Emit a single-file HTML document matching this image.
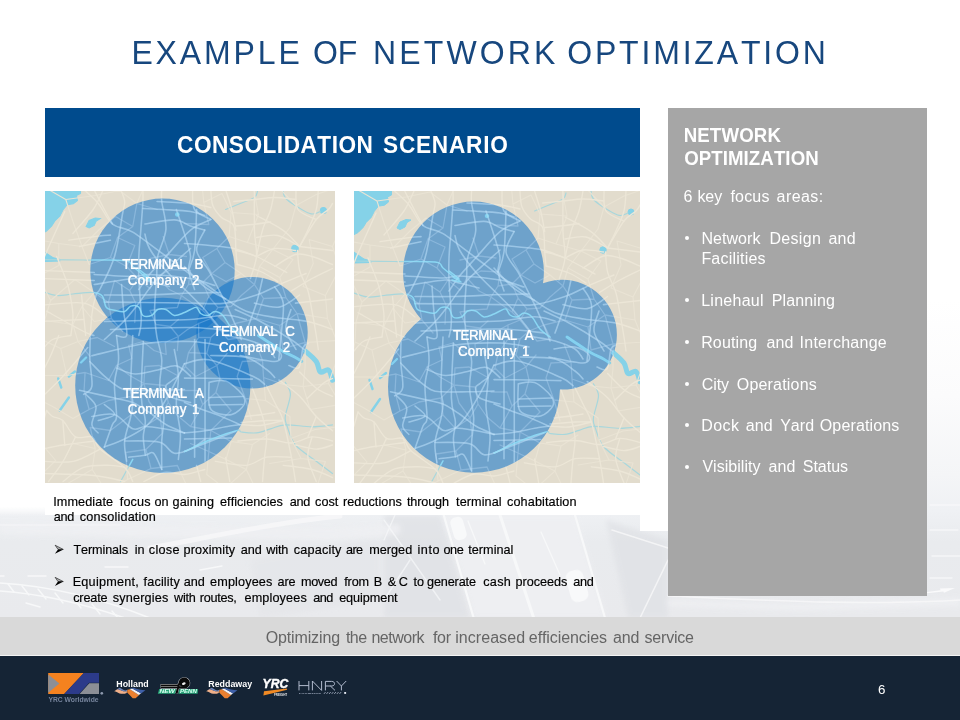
<!DOCTYPE html>
<html>
<head>
<meta charset="utf-8">
<title>Example of Network Optimization</title>
<style>
html,body{margin:0;padding:0;}
body{width:960px;height:720px;position:relative;overflow:hidden;background:#fff;font-family:"Liberation Sans",sans-serif;}
.abs{position:absolute;}
#bgimg{left:0;top:300px;width:960px;height:318px;}
#wbox1{left:45px;top:100px;width:595px;height:415px;background:#fff;}
#wbox2{left:640px;top:100px;width:28px;height:431px;background:#fff;}
#banner{left:45px;top:108px;width:595px;height:69px;background:#004b8d;}
#map1{left:45px;top:191px;width:290px;height:292px;}
#map2{left:354px;top:191px;width:286px;height:292px;}
#panel{left:668px;top:108px;width:259px;height:487.5px;background:#a6a6a6;}
.w{position:absolute;white-space:nowrap;font-kerning:none;font-variant-ligatures:none;}
.bul{position:absolute;width:4.6px;height:4.6px;border-radius:50%;background:#fff;}
.bk{-webkit-text-stroke:0.18px #000;}
.ml{-webkit-text-stroke:0.22px #fff;text-shadow:0 0 1px rgba(255,255,255,0.55);}
#graybar{left:0;top:617px;width:960px;height:38.2px;background:#d9d9d9;border-bottom:0.9px solid #f4f4f4;}
#footer{left:0;top:656px;width:960px;height:64px;background:#152435;}
#pnum{left:876px;top:682px;color:#fff;font-size:12px;line-height:14px;}
</style>
</head>
<body>
<svg width="0" height="0" style="position:absolute">
  <defs>
<g id="rd" fill="none" stroke-linecap="round" stroke-linejoin="round">
<path d="M99 0C99.0 2.0 99.3 5.3 99 12C98.7 18.7 97.7 30.8 97 40C96.3 49.2 95.3 58.8 95 67C94.7 75.2 94.6 78.5 95 89C95.4 99.5 97.4 120.5 97.4 130C97.4 139.5 95.4 143.3 95 146"/>
<path d="M40.6 0C43.0 2.3 50.3 8.2 55 14C59.7 19.8 63.3 29.7 69 34.5C74.7 39.3 80.2 37.2 89 42.6C97.8 48.0 112.5 59.9 122 67C131.5 74.1 139.0 80.0 146 85C153.0 90.0 158.2 92.9 164 97C169.8 101.1 174.4 105.4 180.6 109.5C186.8 113.6 192.8 118.6 201 121.7C209.2 124.8 219.9 126.3 230 128C240.1 129.7 252.4 130.0 261.7 132C271.0 134.0 281.9 138.7 286 140"/>
<path d="M77 0C77.7 2.0 80.7 8.0 81 12C81.3 16.0 80.7 14.8 79 24C77.3 33.2 74.7 54.5 71 67C67.3 79.5 60.0 92.7 57 99C54.0 105.3 54.4 100.7 53 105C51.6 109.3 49.8 114.8 48.7 125C47.6 135.2 46.6 154.4 46.6 166.3C46.6 178.2 49.7 190.3 48.7 196.7C47.7 203.1 42.0 203.5 40.6 204.8"/>
<path d="M99 19C102.5 19.2 112.2 19.5 120 20C127.8 20.5 139.3 21.0 146 22C152.7 23.0 157.7 25.3 160 26"/>
<path d="M113 12C118.5 12.3 137.2 13.0 146 14C154.8 15.0 162.7 17.3 166 18"/>
<path d="M117.6 0C117.6 2.0 116.9 5.3 117.6 12C118.3 18.7 122.4 30.8 121.7 40C121.0 49.2 115.1 59.2 113.6 67C112.1 74.8 113.1 77.9 112.6 87C112.1 96.1 110.5 111.9 110.5 121.7C110.5 131.5 111.4 137.9 112.6 146C113.8 154.1 117.1 161.6 117.6 170C118.1 178.4 115.2 187.2 115.6 196.7C115.9 206.2 119.4 217.9 119.7 227C120.0 236.1 117.9 242.7 117.6 251.5C117.2 260.3 117.6 275.2 117.6 280"/>
<path d="M51 85C57.3 85.3 80.0 87.0 89 87C98.0 87.0 95.5 84.7 105 85C114.5 85.3 135.2 87.2 146 89C156.8 90.8 166.0 94.8 170 96"/>
<path d="M51 95C57.7 94.0 82.0 89.5 91 89C100.0 88.5 99.3 90.7 105 92C110.7 93.3 121.7 96.2 125 97"/>
<path d="M61 105.5C67.7 105.5 86.8 105.8 101 105.5C115.2 105.2 133.7 103.9 146 103.5C158.3 103.1 170.2 103.1 175 103"/>
<path d="M61 112.6C67.5 112.7 85.8 112.8 100 113C114.2 113.2 132.6 113.5 146 113.6C159.4 113.7 169.8 114.9 180.6 113.6C191.4 112.2 202.9 108.2 211 105.5C219.1 102.8 224.6 99.4 229 97.4C233.4 95.4 232.2 95.5 237.4 93.3C242.6 91.1 256.2 85.5 260 84"/>
<path d="M78 95C78.3 99.5 79.2 113.2 80 121.7C80.8 130.2 84.2 141.9 83 146C81.8 150.1 74.7 146.0 73 146"/>
<path d="M146 59C140.6 64.0 122.1 79.9 113.6 89C105.1 98.1 100.6 106.4 95 113.6C89.4 120.8 85.7 125.9 80 132C74.3 138.1 64.2 147.0 61 150"/>
<path d="M101 44.6C101.8 47.0 102.0 52.9 105.5 59C109.0 65.1 115.0 73.2 121.7 81C128.4 88.8 139.6 99.0 146 105.5C152.4 112.0 155.0 114.2 160 120C165.0 125.8 173.3 136.7 176 140"/>
<path d="M166 30C162.7 31.8 153.4 34.4 146 40.6C138.6 46.8 128.4 59.6 121.7 67C115.0 74.4 110.0 79.5 105.5 85C101.0 90.5 96.8 97.5 95 100"/>
<path d="M132 20C133.7 25.1 139.7 42.9 142 50.7C144.3 58.5 145.7 62.0 146 67C146.3 72.0 143.3 75.5 144 81C144.7 86.5 149.0 96.8 150 100"/>
<path d="M101 34.5C105.8 33.8 122.5 30.1 130 30.4C137.5 30.7 141.0 34.8 146 36.5C151.0 38.2 157.7 39.9 160 40.6"/>
<path d="M61 132C67.5 131.8 85.8 131.3 100 131C114.2 130.7 132.6 130.9 146 130C159.4 129.1 171.4 125.8 180.6 125.8C189.8 125.8 197.6 129.3 201 130"/>
<path d="M67 140C80.2 139.7 125.5 137.7 146 138C166.5 138.3 182.7 141.3 190 142"/>
<path d="M140 54C144.2 54.3 156.9 55.2 165 56C173.1 56.8 181.0 57.2 188.7 59C196.4 60.8 207.3 65.7 211 67"/>
<path d="M152 20C151.7 26.8 151.3 50.8 150 61C148.7 71.2 145.0 77.7 144 81"/>
<path d="M160 40.6C158.7 44.0 151.3 54.3 152 61C152.7 67.7 160.2 74.3 164 81C167.8 87.7 171.7 96.0 174.5 101.4C177.3 106.8 178.0 108.0 180.6 113.6C183.2 119.2 187.4 128.9 190 135C192.6 141.1 195.0 147.5 196 150"/>
<path d="M140 77C143.3 80.4 153.2 92.0 160 97.4C166.8 102.8 177.2 107.5 180.6 109.5"/>
<path d="M209 113.6C213.1 114.3 225.9 118.9 233.3 117.6C240.7 116.2 250.2 107.5 253.6 105.5"/>
<path d="M201 142C202.7 137.3 208.3 122.4 211 113.6C213.7 104.8 216.0 93.1 217 89"/>
<path d="M229 97.4C230.4 100.1 236.3 105.5 237.4 113.6C238.5 121.7 236.0 136.6 235.3 146C234.6 155.4 233.4 166.0 233 170"/>
<path d="M180 146C183.5 146.7 194.2 148.0 201 150C207.8 152.0 216.3 155.0 221 158C225.7 161.0 227.7 166.3 229 168"/>
<path d="M166 166C171.8 166.3 191.8 165.7 201 168C210.2 170.3 216.3 176.7 221 180C225.7 183.3 227.7 186.7 229 188"/>
<path d="M195 166C200.7 167.0 222.3 172.3 229 172C235.7 171.7 236.3 166.7 235 164C233.7 161.3 226.8 157.0 221 156C215.2 155.0 203.5 157.7 200 158"/>
<path d="M243 176C244.7 176.3 250.7 181.0 253 178C255.3 175.0 255.5 162.0 257 158C258.5 154.0 261.2 154.7 262 154"/>
<path d="M190 120C194.2 122.0 205.8 127.0 215 132C224.2 137.0 237.8 145.3 245 150C252.2 154.7 255.8 158.3 258 160"/>
<path d="M245 120C244.2 123.3 239.2 133.3 240 140C240.8 146.7 248.3 156.7 250 160"/>
<path d="M48.7 166.3C57.5 164.2 85.2 156.4 101.4 154C117.6 151.6 133.7 151.7 146 152C158.3 152.3 170.2 155.3 175 156"/>
<path d="M36.5 200.8C42.6 202.2 64.2 207.0 73 209C81.8 211.0 83.6 210.7 89 213C94.4 215.3 100.0 219.3 105.5 223C111.0 226.7 116.0 231.6 121.7 235C127.5 238.4 136.9 242.0 140 243.4"/>
<path d="M73 146C73.3 150.0 75.3 161.9 75 170C74.7 178.1 71.3 185.2 71 194.7C70.7 204.2 73.3 220.3 73 227C72.7 233.7 71.0 229.9 69 235C67.0 240.1 62.3 253.8 61 257.6"/>
<path d="M89 146C88.7 154.4 87.0 185.5 87 196.7C87.0 207.9 89.0 207.9 89 213C89.0 218.1 88.3 220.6 87 227C85.7 233.4 81.7 244.0 81 251.5C80.3 259.0 82.7 268.4 83 271.8"/>
<path d="M99.4 152C99.1 161.2 97.1 193.8 97.4 207C97.7 220.2 101.1 224.3 101.4 231C101.7 237.7 99.4 241.6 99.4 247.4C99.4 253.2 101.1 262.6 101.4 265.7"/>
<path d="M46.6 172C49.0 174.4 55.9 182.2 61 186.6C66.1 191.0 72.3 196.3 77 198.7C81.7 201.1 82.9 200.5 89 200.8C95.1 201.2 105.1 200.9 113.6 200.8C122.1 200.7 135.6 200.1 140 200"/>
<path d="M73 178.5C76.0 179.5 84.5 184.2 91.3 184.5C98.1 184.8 106.8 181.8 113.6 180.5C120.4 179.2 126.6 175.4 132 176.4C137.4 177.4 143.7 184.9 146 186.6"/>
<path d="M42.6 204.8C44.3 206.8 51.7 212.0 52.7 217C53.7 222.0 48.4 230.6 48.7 235C49.1 239.4 53.8 242.0 54.8 243.4"/>
<path d="M48.7 227C52.4 226.7 64.3 222.9 71 225C77.7 227.1 83.9 237.3 89 239.3C94.1 241.3 96.3 237.0 101.4 237C106.5 237.0 113.3 238.2 119.7 239.3C126.1 240.4 136.6 242.7 140 243.4"/>
<path d="M61 257.6C64.3 256.2 74.3 252.9 81 249.5C87.7 246.1 96.0 241.7 101.4 237.3C106.8 232.9 109.5 228.8 113.6 223C117.7 217.2 122.4 208.9 125.8 202.8C129.2 196.7 131.6 191.4 134 186.6C136.4 181.8 139.0 176.1 140 174"/>
<path d="M81 251.5C84.4 251.5 95.3 251.2 101.4 251.5C107.5 251.8 112.8 251.5 117.6 253.5C122.4 255.5 125.3 262.7 130 263.7C134.7 264.7 141.0 261.9 146 259.6C151.0 257.3 157.7 251.6 160 250"/>
<path d="M85 267.7C87.7 267.4 97.3 266.4 101.4 265.7C105.5 265.0 106.8 261.3 109.5 263.7C112.2 266.1 116.2 277.3 117.6 280"/>
<path d="M146 213C142.6 212.0 129.8 209.7 125.8 207C121.8 204.3 121.7 199.1 121.7 196.7C121.7 194.3 123.8 194.4 125.8 192.7C127.8 191.0 132.6 187.6 134 186.6"/>
<path d="M61 215C62.7 216.7 72.0 222.3 71 225C70.0 227.7 57.7 230.0 55 231"/>
<path d="M130 160C130.7 164.4 133.7 177.4 134 186.6C134.3 195.8 131.7 205.3 132 215C132.3 224.7 135.7 235.8 136 245C136.3 254.2 134.3 265.8 134 270"/>
<path d="M150 150C150.0 153.7 150.0 152.4 150 172C150.0 191.6 150.0 251.8 150 267.7"/>
<path d="M160.3 150C160.3 153.7 160.3 151.7 160.3 172C160.3 192.3 160.3 255.2 160.3 271.8"/>
<path d="M140 188.6C145.8 188.7 163.8 188.8 175 189C186.2 189.2 201.7 189.5 207 189.6"/>
<path d="M140 174.4C144.1 173.7 153.1 168.3 164.3 170.3C175.5 172.3 197.9 182.5 207 186.6C216.1 190.7 217.0 193.3 219 194.7"/>
<path d="M164.3 192.7C167.0 192.5 175.2 189.6 180.6 191.6C186.0 193.6 193.8 200.9 196.8 204.8C199.8 208.7 200.5 211.6 198.8 215C197.1 218.4 191.4 223.7 186.7 225C182.0 226.3 174.1 224.7 170.4 223C166.7 221.3 165.3 220.1 164.3 215C163.3 209.9 164.3 196.4 164.3 192.7"/>
<path d="M164.3 208 L198 207"/>
<path d="M164.3 215.5 L197 215"/>
<path d="M140 213C143.4 214.3 154.2 218.7 160.3 221C166.4 223.3 170.8 224.6 176.5 227C182.2 229.4 191.8 233.8 194.8 235.2"/>
<path d="M140 243.4C143.4 243.1 153.5 242.3 160.3 241.3C167.1 240.3 174.8 238.3 180.6 237.3C186.3 236.3 189.1 235.4 194.8 235.2C200.5 235.0 208.0 236.7 215 236C222.0 235.3 233.3 231.8 237 231"/>
<path d="M140 249.5 L186.7 248.5"/>
<path d="M140 262C144.2 260.3 156.7 255.3 165 252C173.3 248.7 185.8 243.7 190 242"/>
<path d="M50.7 0C52.4 3.3 58.0 14.2 61 20C64.0 25.8 67.7 32.1 69 34.5"/>
<path d="M14 67C15.3 70.3 19.9 81.3 22 87C24.1 92.7 25.1 95.1 26.4 101.4C27.7 107.7 29.7 117.6 30 125C30.3 132.4 28.3 142.5 28 146"/>
<path d="M0 81 L51 83"/>
<path d="M0 89 L51 91"/>
<path d="M26 50.7C30.8 50.0 48.2 47.5 55 46.6C61.8 45.8 65.0 45.8 67 45.6"/>
<path d="M36.5 57 L67 50.7"/>
<path d="M0 115.6C6.8 115.3 30.4 111.9 40.6 113.6C50.8 115.3 57.6 123.9 61 126"/>
<path d="M4 121.7C10.1 125.1 32.8 137.9 40.6 142C48.4 146.1 49.0 145.3 50.7 146"/>
<path d="M38.5 105.5 L42.6 146"/>
<path d="M0 132 L40.6 130"/>
<path d="M22 22C18.7 29.5 5.7 58.2 2 67C-1.7 75.8 0.3 73.7 0 75"/>
<path d="M60 0C58.3 3.3 55.0 12.7 50 20C45.0 27.3 33.3 40.0 30 44"/>
<path d="M209 0C209.0 6.8 208.7 29.4 209 40.6C209.3 51.8 211.7 58.9 211 67C210.3 75.1 206.0 85.3 205 89"/>
<path d="M148 0C148.3 3.3 147.0 15.0 150 20C153.0 25.0 163.3 28.3 166 30"/>
<path d="M166 0C166.3 2.7 166.2 11.3 168 16C169.8 20.7 173.1 24.6 176.5 28C179.9 31.4 186.3 31.0 188.7 36.5C191.1 42.0 190.1 54.6 190.7 61C191.2 67.4 191.8 72.7 192 75"/>
<path d="M180.6 0C181.6 3.3 185.0 13.2 186.7 20C188.4 26.8 190.0 37.2 190.7 40.6"/>
<path d="M229 0C228.3 3.3 227.0 13.2 225 20C223.0 26.8 219.3 32.8 217 40.6C214.7 48.4 212.0 62.6 211 67"/>
<path d="M211 26C215.3 28.4 229.9 35.4 237 40.6C244.1 45.8 250.8 54.3 253.6 57"/>
<path d="M190.7 36.5C194.1 36.2 205.3 35.2 211 34.5C216.7 33.8 222.7 32.8 225 32.5"/>
<path d="M190.7 61C194.1 62.0 202.6 63.3 211 67C219.4 70.7 236.0 80.3 241 83"/>
<path d="M253.6 57 L286 61"/>
<path d="M253.6 57C256.3 52.5 265.3 36.2 270 30C274.7 23.8 279.3 22.7 282 20C284.7 17.3 285.3 15.0 286 14"/>
<path d="M251.5 61C251.8 64.3 251.9 74.3 253.6 81C255.3 87.7 259.7 94.2 261.7 101C263.7 107.8 264.4 114.2 265.8 121.7C267.2 129.2 269.0 139.6 270 146C271.0 152.4 271.7 157.7 272 160"/>
<path d="M211 67C214.0 65.7 222.6 60.0 229 59C235.4 58.0 246.1 60.7 249.5 61"/>
<path d="M229 77C232.4 75.0 243.4 66.7 249.5 65C255.6 63.3 259.7 65.3 265.8 67C271.9 68.7 282.6 73.7 286 75"/>
<path d="M245.5 101.4C248.9 99.3 259.1 92.7 265.8 89C272.6 85.3 282.6 80.7 286 79"/>
<path d="M249.5 113.6 L286 109.5"/>
<path d="M272 0C271.7 3.3 271.7 13.2 270 20C268.3 26.8 264.4 34.4 261.7 40.6C259.0 46.8 254.9 54.3 253.6 57"/>
<path d="M188.7 12C192.1 11.7 202.3 10.7 209 10C215.7 9.3 222.2 8.0 229 8C235.8 8.0 246.5 9.7 250 10"/>
<path d="M211 48C214.5 47.7 224.9 44.5 232 46C239.1 47.5 250.0 55.2 253.6 57"/>
<path d="M192 75C195.8 76.2 208.3 79.2 215 82C221.7 84.8 229.2 90.3 232 92"/>
<path d="M250 0C250.3 3.3 248.7 15.0 252 20C255.3 25.0 267.0 28.3 270 30"/>
<path d="M16 146C14.7 149.4 10.7 160.2 8 166.3C5.3 172.4 1.3 179.8 0 182.5"/>
<path d="M44.6 158C40.6 162.8 27.7 178.4 20.3 186.6C12.9 194.8 3.4 203.6 0 207"/>
<path d="M4 221C5.0 222.0 7.3 225.3 10 227C12.7 228.7 16.2 227.6 20 231C23.8 234.4 27.7 244.7 32.5 247.4C37.3 250.1 44.7 245.4 48.7 247.4C52.8 249.4 51.4 254.5 56.8 259.6C62.2 264.7 75.6 272.6 81 278C86.4 283.4 87.7 289.7 89 292"/>
<path d="M0 259.6C3.4 258.9 11.8 256.9 20.3 255.5C28.8 254.2 45.6 252.2 50.7 251.5"/>
<path d="M0 271.8C5.1 271.8 20.9 273.8 30.4 271.8C39.9 269.8 52.4 261.6 56.8 259.6"/>
<path d="M6 292C8.4 288.6 15.9 279.2 20.3 271.8C24.7 264.4 30.5 251.5 32.5 247.4"/>
<path d="M20.3 292C23.7 289.6 32.8 280.6 40.6 277.9C48.4 275.2 60.3 275.8 67 275.8C73.7 275.8 78.7 277.5 81 277.9"/>
<path d="M0 284C8.5 284.3 37.2 284.7 50.7 286C64.2 287.3 76.0 291.0 81 292"/>
<path d="M20 231 L22 256"/>
<path d="M4 221 L0 235"/>
<path d="M0 160C1.7 158.3 5.3 152.3 10 150C14.7 147.7 25.0 146.7 28 146"/>
<path d="M207 198.7C208.7 203.4 214.7 218.9 217 227C219.3 235.1 220.7 240.6 221 247.4C221.3 254.2 219.7 260.3 219 267.7C218.3 275.1 217.3 287.9 217 292"/>
<path d="M221 196.7C222.3 199.4 226.3 207.2 229 213C231.7 218.8 234.7 222.1 237.4 231.2C240.2 240.3 243.5 257.6 245.5 267.7C247.5 277.8 248.8 287.9 249.5 292"/>
<path d="M233.3 190.6C236.7 193.3 247.5 200.7 253.6 206.8C259.7 212.9 264.6 221.2 270 227C275.4 232.8 283.3 238.9 286 241.3"/>
<path d="M253.6 182.5C256.3 185.2 264.6 194.6 270 198.7C275.4 202.8 283.3 205.5 286 206.8"/>
<path d="M261 209C263.8 206.3 273.8 196.3 278 193C282.2 189.7 284.7 189.7 286 189"/>
<path d="M200 227C202.8 226.7 212.2 225.7 217 225C221.8 224.3 227.0 223.3 229 223"/>
<path d="M196 233C200.2 232.7 214.1 231.3 221 231C227.9 230.7 234.7 231.0 237.4 231"/>
<path d="M192.7 251.5C197.4 251.2 212.2 249.2 221 249.5C229.8 249.8 238.0 253.8 245.5 253.5C253.0 253.2 259.1 247.7 265.8 247.4C272.6 247.1 282.6 250.8 286 251.5"/>
<path d="M170.4 271.8C175.5 272.5 192.6 276.5 201 275.8C209.4 275.1 213.6 269.1 221 267.7C228.4 266.3 241.4 267.7 245.5 267.7"/>
<path d="M152 276 L156 292"/>
<path d="M180.6 268 L184.7 292"/>
<path d="M237.4 275.8C242.1 276.5 257.7 278.0 265.8 280C273.9 282.0 282.6 286.7 286 288"/>
<path d="M265.8 247.4C265.1 250.8 261.0 260.3 261.7 267.7C262.4 275.1 268.6 287.9 270 292"/>
<path d="M270 227 L261.7 247.4"/>
<path d="M249.5 255.5C252.9 256.2 263.9 259.6 270 259.6C276.1 259.6 283.3 256.2 286 255.5"/>
<path d="M100 292C103.3 290.5 113.3 284.2 120 283C126.7 281.8 133.3 285.5 140 285C146.7 284.5 156.7 280.8 160 280"/>
</g>
<path id="rf" fill="none" stroke-linecap="round" d="M-5 289L13 271M-8 246L13 271M-6 186L-9 207M279 272L270 299M135 0L157 -9M289 174L290 151M290 151L259 153M281 129L290 151M-4 87L16 76M281 129L251 124M259 153L251 124M240 108L251 124M196 106L209 95M218 109L209 95M196 84L209 95M244 38L250 16M295 237L294 215M281 129L279 106M279 106L293 79M257 97L279 106M30 135L2 131M8 111L2 131M8 111L-4 87M8 111L32 90M30 135L39 117M51 132L39 117M51 103L39 117M51 103L65 113M51 103L32 90M1 151L2 131M1 151L-6 186M279 272L255 269M234 136L251 124M240 108L218 109M196 84L181 92M167 84L181 92M167 84L180 73M196 84L180 73M159 13L157 -9M164 35L159 13M240 108L234 88M234 88L247 70M257 97L267 74M270 5L250 16M270 5L296 -4M295 237L269 240M269 240L245 249M244 227L245 249M255 269L245 249M68 129L65 113M68 129L51 132M259 153L259 177M244 227L220 211M270 299L241 300M167 84L158 93M164 107L158 93M211 129L218 109M234 136L211 129M133 118L120 119M125 100L137 106M133 118L137 106M148 114L137 106M92 114L91 133M106 121L112 135M106 121L120 119M134 130L126 137M112 135L126 137M65 191L73 176M86 186L73 176M127 80L146 81M229 -6L250 16M286 57L293 79M286 57L296 34M267 74L263 50M286 57L263 50M86 186L100 194M87 207L100 194M10 217L-9 207M-6 186L24 186M101 177L115 176M101 177L100 194M24 186L42 183M41 201L42 183M65 191L42 183M18 159L24 186M1 151L18 159M56 40L39 57M16 76L16 54M-6 50L16 54M39 57L16 54M164 35L140 34M224 274L255 269M166 241L146 237M257 197L259 177M257 197L238 195M192 187L200 209M186 221L171 203M206 230L200 209M220 211L200 209M220 211L218 188M238 195L218 188M217 171L218 188M259 153L237 159M234 136L237 159M217 171L210 153M144 95L158 93M144 95L146 81M144 95L137 106M68 129L79 142M99 152L110 161M99 152L85 156M167 84L158 68M172 59L158 68M172 59L180 73M229 -6L207 -7M202 53L213 25M213 25L186 23M213 25L207 -7M184 47L172 59M202 53L184 47M184 47L186 23M214 77L209 95M234 88L214 77M87 207L65 211M105 212L100 194M82 263L102 260M107 279L102 260M30 229L10 217M126 137L134 147M121 153L134 147M110 161L122 165M121 153L122 165M133 186L115 176M73 176L88 169M88 169L85 156M18 159L35 152M30 135L35 152M47 167L35 152M54 148L35 152M67 68L46 75M39 57L46 75M67 68L74 48M91 56L74 48M56 40L72 27M30 32L39 57M127 80L113 87M113 87L125 100M113 87L106 99M92 114L86 101M83 77L67 68M83 77L91 56M142 67L125 65M125 65L106 69M71 157L54 148M186 221L166 241M171 203L158 215M158 215L146 237M133 226L146 237M224 244L207 255M211 301L241 300M289 174L282 194M257 197L282 194M294 215L282 194M257 197L264 220M294 215L264 220M175 189L172 176M151 187L172 176M175 189L171 203M182 164L172 176M162 164L166 148M162 164L172 176M196 106L186 117M211 129L190 134M177 4L186 23M177 4L159 13M227 60L214 77M227 60L202 53M227 60L247 70M227 60L244 38M65 211L46 220M41 201L46 220M30 229L46 220M105 212L116 227M124 213L116 227M133 226L124 213M133 276L107 279M133 276L144 300M82 263L84 290M84 290L107 279M84 290L63 302M67 241L47 238M144 163L154 148M154 148L166 148M144 163L162 164M133 186L141 177M151 187L141 177M144 163L141 177M121 196L100 194M121 196L124 213M89 37L74 48M89 37L72 27M-6 50L-3 22M-1 -4L-3 22M52 6L76 1M65 113L71 91M71 91L86 101M83 77L94 89M94 89L106 99M94 89L86 101M125 65L119 47M158 215L153 201M137 201L153 201M207 255L186 252M166 241L186 252M207 255L201 280M211 301L201 280M217 171L197 172M192 187L197 172M164 107L173 118M186 117L173 118M118 244L116 227M118 244L102 260M30 254L52 259M47 238L52 259M89 224L87 207M89 224L67 241M143 140L134 147M133 161L134 147M89 37L93 14M113 20L93 14M93 14L76 1M103 -9L93 14M52 6L23 10M-1 -4L23 10M30 32L23 10M146 254L164 262M166 241L164 262M181 270L186 252M181 270L201 280M181 270L164 262M183 150L197 148M190 134L197 148M183 150L175 140M175 140L166 148M175 140L190 134M49 280L52 259M49 280L63 302M49 280L18 298M101 237L116 227M89 224L101 237M143 140L154 134M154 148L154 134M162 285L164 262M175 140L166 129M166 129L173 118M166 129L154 134M180 299L201 280M180 299L162 285M164 107L158 121M166 129L158 121M148 114L158 121"/>
<g id="wt">
<path d="M0 0 L37.5 0 L37.5 4 L33.5 6 L34.5 11 L30.4 14.2 L24.3 15.2 L20.3 20.3 L17.2 26.4 L12.2 31.4 L9.1 36.5 L4 41.6 L0 43.6Z"/>
<path d="M43 37 L46 31 L52 28.5 L57 29 L53 31.5 L51 36 L46 38.5Z"/>
<path d="M0 61 L4 64 L10 68 L17 70 L17 71.5 L0 72Z"/>
<circle cx="277" cy="21" r="3"/>
<circle cx="249" cy="59" r="3.2"/>
<circle cx="133" cy="25" r="1.8"/>
<g fill="none" stroke-linecap="round" stroke-linejoin="round">
<path stroke-width="3" d="M213 146C215.0 147.3 220.9 151.3 225 154C229.1 156.7 233.3 159.7 237.4 162C241.5 164.3 246.5 166.3 249.5 168C252.5 169.7 254.6 171.3 255.6 172"/>
<path stroke-width="5" d="M259.7 162C261.4 163.7 267.6 168.6 270 172C272.4 175.4 272.0 181.1 274 182.5C276.0 183.9 280.0 179.1 282 180.5C284.0 181.9 285.3 189.0 286 190.7"/>
<g stroke-width="2.4">
<path d="M15.5 189 L18.5 198"/>
<path d="M17 221 L26 208"/>
<path d="M26 187 L32 182"/>
<path d="M38 173 L43 168"/>
</g></g></g>
<g id="wl" fill="none" stroke-linecap="round" stroke-linejoin="round">
<path d="M0 102C2.3 102.7 9.0 105.6 14 106C19.0 106.4 24.0 105.0 30 104.5C36.0 104.0 45.2 102.7 50 103C54.8 103.3 56.8 104.0 59 106.5C61.2 109.0 60.8 115.6 63 118C65.2 120.4 69.0 120.3 72 121C75.0 121.7 78.5 122.7 81 122C83.5 121.3 84.7 117.3 87 116.6C89.3 115.9 93.0 116.0 95 117.6C97.0 119.2 96.9 124.6 99 126C101.1 127.4 105.1 127.0 107.5 126C109.9 125.0 111.2 121.0 113.6 120C116.0 119.0 119.0 119.0 121.7 120C124.4 121.0 127.0 125.5 130 126C133.1 126.5 137.3 124.0 140 123C142.7 122.0 144.0 120.8 146 120C148.0 119.2 150.3 117.3 152 118C153.7 118.7 154.2 122.7 156 124C157.8 125.3 160.7 126.3 163 126C165.3 125.7 167.5 122.0 170 122C172.5 122.0 175.3 123.3 178 126C180.7 128.7 183.0 134.7 186 138C189.0 141.3 194.3 144.7 196 146"/>
<path d="M0 70C6.7 70.1 26.5 70.3 40 70.5C53.5 70.7 72.8 69.9 81 71C89.2 72.1 85.7 74.3 89 77C92.3 79.7 99.0 85.3 101 87"/>
<path d="M140 262C144.3 260.0 157.3 253.5 166 250C174.7 246.5 187.0 242.2 192 241C197.0 239.8 192.8 242.1 196 242.5C199.2 242.9 206.2 243.9 211 243.4C215.8 242.9 220.3 240.7 225 239.3C229.7 238.0 232.6 235.6 239.4 235.3C246.2 235.0 258.0 237.3 265.8 237.3C273.6 237.3 282.6 235.6 286 235.3"/>
<path d="M239.4 192.7C240.2 194.7 244.5 199.1 244.5 204.8C244.5 210.5 239.9 221.6 239.4 227C238.9 232.4 239.7 232.6 241.4 237.3C243.1 242.1 244.7 249.8 249.5 255.5C254.3 261.2 263.9 267.1 270 271.8C276.1 276.6 283.3 282.0 286 284"/>
<path d="M89 269.8 L77 292"/>
<path d="M212 2C211.5 3.0 211.8 6.0 209 8C206.2 10.0 199.7 12.0 195 14C190.3 16.0 183.0 19.0 180.6 20"/>
<path d="M237 0C237.7 1.7 236.6 6.0 241 10C245.4 14.0 258.2 22.0 263.7 24C269.2 26.0 272.3 22.3 274 22"/>
<path d="M95 80C96.7 81.3 104.3 87.0 105 88C105.7 89.0 98.7 85.5 99 86C99.3 86.5 107.2 90.5 107 91C106.8 91.5 99.5 89.3 98 89"/>
</g>
    <clipPath id="cu1"><circle cx="117.5" cy="79.7" r="72.2"/><circle cx="117.8" cy="194.4" r="87.6"/><circle cx="207" cy="141.7" r="55.7"/></clipPath>
    <clipPath id="cu2"><circle cx="119.5" cy="81" r="70.4"/><circle cx="120" cy="195.7" r="86"/><circle cx="208" cy="143.7" r="54.9"/></clipPath>
  </defs>
</svg>
<svg id="bgimg" class="abs" viewBox="0 300 960 318" preserveAspectRatio="none">
  <defs>
    <linearGradient id="bgfade" gradientUnits="userSpaceOnUse" x1="0" y1="300" x2="0" y2="618">
      <stop offset="0" stop-color="#ffffff"/>
      <stop offset="0.30" stop-color="#fbfbfc"/>
      <stop offset="0.55" stop-color="#f4f5f7"/>
      <stop offset="0.66" stop-color="#eff1f4"/>
      <stop offset="0.76" stop-color="#e9ebee"/>
      <stop offset="1" stop-color="#e9eaed"/>
    </linearGradient>
    <filter id="bl1" x="-5%" y="-5%" width="110%" height="110%"><feGaussianBlur stdDeviation="0.7"/></filter>
    <filter id="bl2" x="-5%" y="-5%" width="110%" height="110%"><feGaussianBlur stdDeviation="2.5"/></filter>
    <linearGradient id="bgleft" gradientUnits="userSpaceOnUse" x1="0" y1="300" x2="0" y2="618">
      <stop offset="0" stop-color="#ffffff" stop-opacity="1"/>
      <stop offset="0.65" stop-color="#ffffff" stop-opacity="1"/>
      <stop offset="0.68" stop-color="#ffffff" stop-opacity="0"/>
    </linearGradient>
  </defs>
  <rect x="0" y="300" width="960" height="318" fill="url(#bgfade)"/>
  <!-- darker embankments -->
  <g fill="#dfe1e5" opacity="0.7" filter="url(#bl2)">
    <polygon points="384,515 441,515 470,618 384,618"/>
    <polygon points="606,520 668,540 668,618 628,618"/>
    <polygon points="250,560 330,545 380,540 380,600 260,618" opacity="0.5"/>
  </g>
  <!-- lighter road surfaces -->
  <g fill="#eff0f3" opacity="0.85" filter="url(#bl2)">
    <polygon points="444,515 575,515 606,618 474,618"/>
    <polygon points="0,523 330,528 400,524 400,534 330,540 0,534"/>
    <polygon points="668,600 800,604 960,598 960,606 800,611 668,606"/>
  </g>
  <g fill="none" stroke="#f7f8f9" stroke-linecap="round" filter="url(#bl1)">
    <path d="M443.7 515 L473.7 618" stroke-width="2.2"/>
    <path d="M500 515 L533.7 618" stroke-width="3"/>
    <path d="M575 515 L605 618" stroke-width="2.2"/>
    <path d="M468 521 L485 564" stroke-width="1.3"/>
    <path d="M541 532 L560 575" stroke-width="1.3"/>
    <path d="M150 548 C220 535 280 522 340 516" stroke-width="5" opacity="0.8"/>
    <path d="M0 583 C50 586 100 598 150 618" stroke-width="1.6"/>
    <path d="M0 591 C45 594 90 606 125 618" stroke-width="1.6"/>
    <path d="M8 584 l6 8 M22 586 l7 9 M38 589 l8 10 M55 593 l8 10 M73 598 l8 10 M92 604 l8 10 M112 611 l6 7" stroke-width="1.4"/>
    <path d="M28 576 H46 M-2 576 H4 M105 567 H128 M200 570 l22 -4 M26 603 l14 4" stroke-width="1.4"/>
    <path d="M384 520 L440 600 M395 515 L384 540 M410 560 L384 600" stroke-width="1.4" opacity="0.7"/>
    <path d="M612 530 L668 548 M640 618 L668 560 M668 596 C760 600 860 606 960 600" stroke-width="1.6" opacity="0.8"/>
    <path d="M930 505 H960 M930 530 H958 M932 556 H960 M930 578 H952" stroke-width="1.4" opacity="0.8"/>
    <path d="M0 525 H120" stroke-width="1.2" opacity="0.8"/>
  </g>
  <path d="M927 592 L940.5 590.2 L940 588.4 L955 588 L944 592.8 L943.4 591.4 L927 593.2 Z" fill="#fafafb" filter="url(#bl1)"/>
  <!-- cars -->
  <g fill="#f8f9fa" filter="url(#bl1)">
    <rect x="452" y="517" width="13" height="23" rx="5" transform="rotate(-16 458.5 528.5)"/>
    <rect x="568" y="570" width="18" height="32" rx="7" transform="rotate(-16 577 586)"/>
  </g>
  <rect x="0" y="300" width="45" height="318" fill="url(#bgleft)"/>
</svg>
<div id="wbox1" class="abs"></div>
<div id="wbox2" class="abs"></div>

<div id="banner" class="abs"></div>

<svg id="map1" class="abs" viewBox="0 0 290 292">
  <rect width="290" height="292" fill="#e2dccd"/>
  <g transform="translate(-2.5,-1.5) scale(1.014,1)">
    <use href="#wt" fill="#85d2e8" stroke="#85d2e8"/>
    <use href="#wl" stroke="#a8d7dc" stroke-width="1.2"/>
    <use href="#rf" stroke="#e9e3d4" stroke-width="1.1"/>
    <use href="#rd" stroke="#ece6d7" stroke-width="1.35"/>
  </g>
  <g fill="#0e73ca" fill-opacity="0.55">
    <circle cx="117.5" cy="79.7" r="72.2"/><circle cx="117.8" cy="194.4" r="87.6"/><circle cx="207" cy="141.7" r="55.7"/>
  </g>
  <g clip-path="url(#cu1)">
    <g transform="translate(-2.5,-1.5) scale(1.014,1)">
      <use href="#rf" stroke="#c8e1fa" stroke-opacity="0.28" stroke-width="1.3"/>
      <use href="#rd" stroke="#c2e3fb" stroke-opacity="0.5" stroke-width="1.6"/>
      <use href="#wt" fill="#9be2f7" stroke="#9be2f7" opacity="0.75"/>
      <use href="#wl" stroke="#96e0f8" stroke-width="1.5" opacity="0.85"/>
    </g>
  </g>
</svg>
<svg id="map2" class="abs" viewBox="0 0 286 292">
  <rect width="286" height="292" fill="#e2dccd"/>
  <use href="#wt" fill="#85d2e8" stroke="#85d2e8"/>
    <use href="#wl" stroke="#a8d7dc" stroke-width="1.2"/>
  <use href="#rf" stroke="#e9e3d4" stroke-width="1.1"/>
    <use href="#rd" stroke="#ece6d7" stroke-width="1.35"/>
  <g clip-path="url(#cu2)">
    <rect width="286" height="292" fill="#0e73ca" fill-opacity="0.55"/>
    <use href="#rf" stroke="#c8e1fa" stroke-opacity="0.28" stroke-width="1.3"/>
      <use href="#rd" stroke="#c2e3fb" stroke-opacity="0.5" stroke-width="1.6"/>
    <use href="#wt" fill="#9be2f7" stroke="#9be2f7" opacity="0.75"/>
      <use href="#wl" stroke="#96e0f8" stroke-width="1.5" opacity="0.85"/>
  </g>
</svg>
<div id="panel" class="abs"></div>
<div id="graybar" class="abs"></div>
<div id="footer" class="abs"></div>
<svg class="abs" style="left:50px;top:540px;width:20px;height:52px;" viewBox="50 540 20 52">
  <g id="arw"><path d="M54.9 553.8 L63.5 549.4 L58 549.4 Z" fill="#000"/><path d="M55.1 545.2 L63.3 549.4 L58 549.4 Z" fill="#000" fill-opacity="0.25" stroke="#000" stroke-width="0.55"/></g>
  <use href="#arw" y="32.15"/>
</svg>
<div id="txt" style="position:absolute;left:0;top:0;width:960px;height:720px;will-change:transform;">
<span class="w " style="left:683.65px;top:124.93px;font-size:18.667px;line-height:22.4px;color:#ffffff;font-weight:bold;transform:scaleY(1.04);transform-origin:0 17.67px;letter-spacing:0.15px;">NETWORK</span>
<span class="w " style="left:684.13px;top:147.83px;font-size:18.667px;line-height:22.4px;color:#ffffff;font-weight:bold;transform:scaleY(1.04);transform-origin:0 17.67px;letter-spacing:0.08px;">OPTIMIZATION</span>
<span class="w " style="left:683.49px;top:186.56px;font-size:16px;line-height:19.2px;color:#ffffff;">6</span>
<span class="w " style="left:697.42px;top:186.56px;font-size:16px;line-height:19.2px;color:#ffffff;letter-spacing:-0.04px;">key</span>
<span class="w " style="left:730.47px;top:186.56px;font-size:16px;line-height:19.2px;color:#ffffff;letter-spacing:0.17px;">focus</span>
<span class="w " style="left:776.62px;top:186.56px;font-size:16px;line-height:19.2px;color:#ffffff;letter-spacing:0.43px;">areas:</span>
<span class="w " style="left:701.39px;top:228.66px;font-size:16px;line-height:19.2px;color:#ffffff;letter-spacing:0.07px;">Network</span>
<span class="w " style="left:769.39px;top:228.66px;font-size:16px;line-height:19.2px;color:#ffffff;letter-spacing:0.33px;">Design</span>
<span class="w " style="left:828.62px;top:228.66px;font-size:16px;line-height:19.2px;color:#ffffff;letter-spacing:0.11px;">and</span>
<span class="w " style="left:701.39px;top:249.36px;font-size:16px;line-height:19.2px;color:#ffffff;letter-spacing:0.22px;">Facilities</span>
<span class="w " style="left:701.19px;top:290.66px;font-size:16px;line-height:19.2px;color:#ffffff;letter-spacing:0.27px;">Linehaul</span>
<span class="w " style="left:771.69px;top:290.66px;font-size:16px;line-height:19.2px;color:#ffffff;letter-spacing:0.15px;">Planning</span>
<span class="w " style="left:701.19px;top:332.86px;font-size:16px;line-height:19.2px;color:#ffffff;letter-spacing:0.12px;">Routing</span>
<span class="w " style="left:766.57px;top:332.86px;font-size:16px;line-height:19.2px;color:#ffffff;letter-spacing:0.13px;">and</span>
<span class="w " style="left:799.52px;top:332.86px;font-size:16px;line-height:19.2px;color:#ffffff;letter-spacing:0.27px;">Interchange</span>
<span class="w " style="left:701.69px;top:374.86px;font-size:16px;line-height:19.2px;color:#ffffff;letter-spacing:-0.07px;">City</span>
<span class="w " style="left:736.74px;top:374.86px;font-size:16px;line-height:19.2px;color:#ffffff;letter-spacing:0.20px;">Operations</span>
<span class="w " style="left:701.19px;top:415.76px;font-size:16px;line-height:19.2px;color:#ffffff;letter-spacing:0.45px;">Dock</span>
<span class="w " style="left:745.82px;top:415.76px;font-size:16px;line-height:19.2px;color:#ffffff;letter-spacing:0.13px;">and</span>
<span class="w " style="left:780.15px;top:415.76px;font-size:16px;line-height:19.2px;color:#ffffff;letter-spacing:0.03px;">Yard</span>
<span class="w " style="left:819.74px;top:415.76px;font-size:16px;line-height:19.2px;color:#ffffff;letter-spacing:0.15px;">Operations</span>
<span class="w " style="left:702.43px;top:457.46px;font-size:16px;line-height:19.2px;color:#ffffff;letter-spacing:0.03px;">Visibility</span>
<span class="w " style="left:768.57px;top:457.46px;font-size:16px;line-height:19.2px;color:#ffffff;letter-spacing:0.13px;">and</span>
<span class="w " style="left:802.77px;top:457.46px;font-size:16px;line-height:19.2px;color:#ffffff;letter-spacing:-0.01px;">Status</span>
<div class="bul" style="left:684.5px;top:235.7px"></div>
<div class="bul" style="left:684.5px;top:297.7px"></div>
<div class="bul" style="left:684.5px;top:339.7px"></div>
<div class="bul" style="left:684.5px;top:381.7px"></div>
<div class="bul" style="left:684.5px;top:422.7px"></div>
<div class="bul" style="left:684.5px;top:464.7px"></div>
<span class="w bk" style="left:53.23px;top:495.01px;font-size:12.667px;line-height:15.2px;color:#000000;letter-spacing:0.09px;">Immediate</span>
<span class="w bk" style="left:119.82px;top:495.01px;font-size:12.667px;line-height:15.2px;color:#000000;letter-spacing:0.12px;">focus</span>
<span class="w bk" style="left:154.47px;top:495.01px;font-size:12.667px;line-height:15.2px;color:#000000;">on</span>
<span class="w bk" style="left:172.47px;top:495.01px;font-size:12.667px;line-height:15.2px;color:#000000;letter-spacing:0.12px;">gaining</span>
<span class="w bk" style="left:220.06px;top:495.01px;font-size:12.667px;line-height:15.2px;color:#000000;letter-spacing:0.02px;">efficiencies</span>
<span class="w bk" style="left:289.76px;top:495.01px;font-size:12.667px;line-height:15.2px;color:#000000;letter-spacing:-0.29px;">and</span>
<span class="w bk" style="left:315.06px;top:495.01px;font-size:12.667px;line-height:15.2px;color:#000000;letter-spacing:0.02px;">cost</span>
<span class="w bk" style="left:342.91px;top:495.01px;font-size:12.667px;line-height:15.2px;color:#000000;letter-spacing:0.06px;">reductions</span>
<span class="w bk" style="left:407.01px;top:495.01px;font-size:12.667px;line-height:15.2px;color:#000000;letter-spacing:-0.15px;">through</span>
<span class="w bk" style="left:456.06px;top:495.01px;font-size:12.667px;line-height:15.2px;color:#000000;letter-spacing:0.07px;">terminal</span>
<span class="w bk" style="left:506.96px;top:495.01px;font-size:12.667px;line-height:15.2px;color:#000000;letter-spacing:0.12px;">cohabitation</span>
<span class="w bk" style="left:53.86px;top:510.41px;font-size:12.667px;line-height:15.2px;color:#000000;letter-spacing:-0.34px;">and</span>
<span class="w bk" style="left:79.76px;top:510.41px;font-size:12.667px;line-height:15.2px;color:#000000;letter-spacing:0.18px;">consolidation</span>
<span class="w bk" style="left:73.47px;top:542.66px;font-size:12.667px;line-height:15.2px;color:#000000;letter-spacing:-0.13px;">Terminals</span>
<span class="w bk" style="left:134.75px;top:542.66px;font-size:12.667px;line-height:15.2px;color:#000000;">in</span>
<span class="w bk" style="left:148.86px;top:542.66px;font-size:12.667px;line-height:15.2px;color:#000000;letter-spacing:0.26px;">close</span>
<span class="w bk" style="left:183.58px;top:542.66px;font-size:12.667px;line-height:15.2px;color:#000000;letter-spacing:0.11px;">proximity</span>
<span class="w bk" style="left:240.71px;top:542.66px;font-size:12.667px;line-height:15.2px;color:#000000;letter-spacing:0.04px;">and</span>
<span class="w bk" style="left:266.27px;top:542.66px;font-size:12.667px;line-height:15.2px;color:#000000;letter-spacing:-0.12px;">with</span>
<span class="w bk" style="left:293.86px;top:542.66px;font-size:12.667px;line-height:15.2px;color:#000000;letter-spacing:0.16px;">capacity</span>
<span class="w bk" style="left:346.06px;top:542.66px;font-size:12.667px;line-height:15.2px;color:#000000;letter-spacing:-0.60px;">are</span>
<span class="w bk" style="left:369.16px;top:542.66px;font-size:12.667px;line-height:15.2px;color:#000000;letter-spacing:0.02px;">merged</span>
<span class="w bk" style="left:417.55px;top:542.66px;font-size:12.667px;line-height:15.2px;color:#000000;letter-spacing:0.49px;">into</span>
<span class="w bk" style="left:443.47px;top:542.66px;font-size:12.667px;line-height:15.2px;color:#000000;letter-spacing:-0.39px;">one</span>
<span class="w bk" style="left:468.21px;top:542.66px;font-size:12.667px;line-height:15.2px;color:#000000;letter-spacing:0.03px;">terminal</span>
<span class="w bk" style="left:72.71px;top:574.81px;font-size:12.667px;line-height:15.2px;color:#000000;letter-spacing:0.22px;">Equipment,</span>
<span class="w bk" style="left:143.57px;top:574.81px;font-size:12.667px;line-height:15.2px;color:#000000;letter-spacing:0.15px;">facility</span>
<span class="w bk" style="left:183.86px;top:574.81px;font-size:12.667px;line-height:15.2px;color:#000000;letter-spacing:-0.14px;">and</span>
<span class="w bk" style="left:210.06px;top:574.81px;font-size:12.667px;line-height:15.2px;color:#000000;letter-spacing:0.14px;">employees</span>
<span class="w bk" style="left:277.56px;top:574.81px;font-size:12.667px;line-height:15.2px;color:#000000;letter-spacing:-0.10px;">are</span>
<span class="w bk" style="left:301.06px;top:574.81px;font-size:12.667px;line-height:15.2px;color:#000000;letter-spacing:-0.39px;">moved</span>
<span class="w bk" style="left:344.22px;top:574.81px;font-size:12.667px;line-height:15.2px;color:#000000;letter-spacing:-0.16px;">from</span>
<span class="w bk" style="left:373.66px;top:574.81px;font-size:12.667px;line-height:15.2px;color:#000000;">B</span>
<span class="w bk" style="left:387.65px;top:574.81px;font-size:12.667px;line-height:15.2px;color:#000000;">&amp;</span>
<span class="w bk" style="left:398.76px;top:574.81px;font-size:12.667px;line-height:15.2px;color:#000000;">C</span>
<span class="w bk" style="left:413.56px;top:574.81px;font-size:12.667px;line-height:15.2px;color:#000000;">to</span>
<span class="w bk" style="left:426.97px;top:574.81px;font-size:12.667px;line-height:15.2px;color:#000000;letter-spacing:-0.13px;">generate</span>
<span class="w bk" style="left:483.21px;top:574.81px;font-size:12.667px;line-height:15.2px;color:#000000;letter-spacing:0.32px;">cash</span>
<span class="w bk" style="left:515.43px;top:574.81px;font-size:12.667px;line-height:15.2px;color:#000000;letter-spacing:-0.01px;">proceeds</span>
<span class="w bk" style="left:573.21px;top:574.81px;font-size:12.667px;line-height:15.2px;color:#000000;letter-spacing:-0.31px;">and</span>
<span class="w bk" style="left:73.21px;top:590.51px;font-size:12.667px;line-height:15.2px;color:#000000;letter-spacing:-0.17px;">create</span>
<span class="w bk" style="left:112.75px;top:590.51px;font-size:12.667px;line-height:15.2px;color:#000000;letter-spacing:0.17px;">synergies</span>
<span class="w bk" style="left:174.02px;top:590.51px;font-size:12.667px;line-height:15.2px;color:#000000;letter-spacing:-0.21px;">with</span>
<span class="w bk" style="left:199.76px;top:590.51px;font-size:12.667px;line-height:15.2px;color:#000000;letter-spacing:-0.27px;">routes,</span>
<span class="w bk" style="left:244.46px;top:590.51px;font-size:12.667px;line-height:15.2px;color:#000000;letter-spacing:0.14px;">employees</span>
<span class="w bk" style="left:313.21px;top:590.51px;font-size:12.667px;line-height:15.2px;color:#000000;letter-spacing:-0.46px;">and</span>
<span class="w bk" style="left:339.16px;top:590.51px;font-size:12.667px;line-height:15.2px;color:#000000;letter-spacing:-0.08px;">equipment</span>
<span class="w ttl" style="left:131.38px;top:33.71px;font-size:32px;line-height:38.4px;color:#17477e;transform:scaleY(1.045);transform-origin:0 30.29px;letter-spacing:2.89px;">EXAMPLE</span>
<span class="w ttl" style="left:312.88px;top:33.71px;font-size:32px;line-height:38.4px;color:#17477e;transform:scaleY(1.045);transform-origin:0 30.29px;">OF</span>
<span class="w ttl" style="left:372.88px;top:33.71px;font-size:32px;line-height:38.4px;color:#17477e;transform:scaleY(1.045);transform-origin:0 30.29px;letter-spacing:3.17px;">NETWORK</span>
<span class="w ttl" style="left:567.23px;top:33.71px;font-size:32px;line-height:38.4px;color:#17477e;transform:scaleY(1.045);transform-origin:0 30.29px;letter-spacing:2.82px;">OPTIMIZATION</span>
<span class="w bn" style="left:177.07px;top:132.25px;font-size:22.667px;line-height:27.2px;color:#ffffff;font-weight:bold;transform:scaleY(1.06);transform-origin:0 21.45px;letter-spacing:0.48px;">CONSOLIDATION</span>
<span class="w bn" style="left:383.05px;top:132.25px;font-size:22.667px;line-height:27.2px;color:#ffffff;font-weight:bold;transform:scaleY(1.06);transform-origin:0 21.45px;letter-spacing:0.74px;">SCENARIO</span>
<span class="w " style="left:265.74px;top:627.86px;font-size:16px;line-height:19.2px;color:#656565;letter-spacing:-0.14px;">Optimizing</span>
<span class="w " style="left:346.01px;top:627.86px;font-size:16px;line-height:19.2px;color:#656565;letter-spacing:-0.60px;">the</span>
<span class="w " style="left:371.44px;top:627.86px;font-size:16px;line-height:19.2px;color:#656565;letter-spacing:-0.50px;">network</span>
<span class="w " style="left:433.02px;top:627.86px;font-size:16px;line-height:19.2px;color:#656565;letter-spacing:-0.34px;">for</span>
<span class="w " style="left:455.18px;top:627.86px;font-size:16px;line-height:19.2px;color:#656565;letter-spacing:0.06px;">increased</span>
<span class="w " style="left:528.82px;top:627.86px;font-size:16px;line-height:19.2px;color:#656565;letter-spacing:-0.08px;">efficiencies</span>
<span class="w " style="left:613.07px;top:627.86px;font-size:16px;line-height:19.2px;color:#656565;letter-spacing:-0.24px;">and</span>
<span class="w " style="left:644.55px;top:627.86px;font-size:16px;line-height:19.2px;color:#656565;letter-spacing:-0.21px;">service</span>
<span class="w ml" style="left:122.20px;top:257.38px;font-size:13.333px;line-height:16px;color:#ffffff;transform:scaleY(1.045);transform-origin:0 12.62px;letter-spacing:-0.40px;">TERMINAL</span>
<span class="w ml" style="left:194.61px;top:257.38px;font-size:13.333px;line-height:16px;color:#ffffff;transform:scaleY(1.045);transform-origin:0 12.62px;">B</span>
<span class="w ml" style="left:127.82px;top:272.98px;font-size:13.333px;line-height:16px;color:#ffffff;transform:scaleY(1.045);transform-origin:0 12.62px;letter-spacing:0.26px;">Company</span>
<span class="w ml" style="left:191.93px;top:272.98px;font-size:13.333px;line-height:16px;color:#ffffff;transform:scaleY(1.045);transform-origin:0 12.62px;">2</span>
<span class="w ml" style="left:213.20px;top:324.28px;font-size:13.333px;line-height:16px;color:#ffffff;transform:scaleY(1.045);transform-origin:0 12.62px;letter-spacing:-0.40px;">TERMINAL</span>
<span class="w ml" style="left:285.32px;top:324.28px;font-size:13.333px;line-height:16px;color:#ffffff;transform:scaleY(1.045);transform-origin:0 12.62px;">C</span>
<span class="w ml" style="left:218.92px;top:340.23px;font-size:13.333px;line-height:16px;color:#ffffff;transform:scaleY(1.045);transform-origin:0 12.62px;letter-spacing:0.24px;">Company</span>
<span class="w ml" style="left:282.63px;top:340.23px;font-size:13.333px;line-height:16px;color:#ffffff;transform:scaleY(1.045);transform-origin:0 12.62px;">2</span>
<span class="w ml" style="left:123.00px;top:386.18px;font-size:13.333px;line-height:16px;color:#ffffff;transform:scaleY(1.045);transform-origin:0 12.62px;letter-spacing:-0.47px;">TERMINAL</span>
<span class="w ml" style="left:194.97px;top:386.18px;font-size:13.333px;line-height:16px;color:#ffffff;transform:scaleY(1.045);transform-origin:0 12.62px;">A</span>
<span class="w ml" style="left:127.82px;top:401.98px;font-size:13.333px;line-height:16px;color:#ffffff;transform:scaleY(1.045);transform-origin:0 12.62px;letter-spacing:0.26px;">Company</span>
<span class="w ml" style="left:191.88px;top:401.98px;font-size:13.333px;line-height:16px;color:#ffffff;transform:scaleY(1.045);transform-origin:0 12.62px;">1</span>
<span class="w ml" style="left:452.90px;top:328.18px;font-size:13.333px;line-height:16px;color:#ffffff;transform:scaleY(1.045);transform-origin:0 12.62px;letter-spacing:-0.45px;">TERMINAL</span>
<span class="w ml" style="left:524.77px;top:328.18px;font-size:13.333px;line-height:16px;color:#ffffff;transform:scaleY(1.045);transform-origin:0 12.62px;">A</span>
<span class="w ml" style="left:457.92px;top:343.78px;font-size:13.333px;line-height:16px;color:#ffffff;transform:scaleY(1.045);transform-origin:0 12.62px;letter-spacing:0.26px;">Company</span>
<span class="w ml" style="left:521.98px;top:343.78px;font-size:13.333px;line-height:16px;color:#ffffff;transform:scaleY(1.045);transform-origin:0 12.62px;">1</span>
<span class="w " style="left:878.12px;top:681.98px;font-size:13.333px;line-height:16px;color:#ffffff;">6</span>
</div>
<svg class="abs" style="left:0;top:656px;width:960px;height:64px;will-change:transform;" viewBox="0 656 960 64">
  <g font-family="'Liberation Sans',sans-serif">
  <!-- YRC Worldwide -->
  <polygon points="48.2,673 83.8,673 64.2,694 48.2,694" fill="#f5821f"/>
  <polygon points="48.2,674.4 59.4,683.5 48.2,692.8" fill="#8c8f96"/>
  <polygon points="83.8,673 99,673 99,682.8 89,682.8 79,694 64.2,694" fill="#2c3b8a"/>
  <polygon points="89.3,683.2 99,683.2 99,694 79.6,694" fill="#8c8f96"/>
  <circle cx="101.8" cy="693.3" r="1.35" fill="#8d99ae"/>
  <text x="48.4" y="701.7" font-size="6.5" font-weight="bold" fill="#76849c" textLength="50.2" lengthAdjust="spacingAndGlyphs">YRC Worldwide</text>
  <!-- Holland -->
  <text x="116.3" y="686.8" font-size="9.8" font-weight="bold" fill="#ffffff" textLength="32.4" lengthAdjust="spacingAndGlyphs">Holland</text>
  <g id="wave" transform="translate(110,684) scale(0.0416667)">
    <path d="M100 175 L185 118 C260 150 330 190 410 170 L400 215 C340 245 280 240 230 225 C180 200 140 185 100 175Z" fill="#f0b08a"/>
    <path d="M150 135 L185 112 L235 90 C275 110 320 150 365 158 L420 140 L410 172 C340 190 270 150 200 125Z" fill="#6e86bc"/>
    <path d="M415 140 L480 125 L700 262 L615 340 L545 342 C500 300 455 245 412 205Z" fill="#ea8030"/>
    <path d="M470 122 L535 106 L745 222 L695 266Z" fill="#f4f2f2"/>
    <path d="M450 108 L560 90 C650 120 750 150 850 150 L745 226 L535 108Z" fill="#3f60a8"/>
  </g>
  <!-- New Penn -->
  <g>
    <path d="M160.6 685.2 H178.5 M160.6 687.3 H177.6" stroke="#d8d8d8" stroke-width="2.3" fill="none"/>
    <path d="M176.6 693.4 C177.6 689 178.4 685.4 179.6 683 A4.6 4.4 0 1 1 185 687.4 L178.4 687.4" stroke="#cfd3d8" stroke-width="2.9" fill="none"/>
    <path d="M160.8 685.2 H178.5 M160.8 687.3 H177.6" stroke="#0a0a0a" stroke-width="1.55" fill="none"/>
    <path d="M176.6 693.4 C177.6 689 178.4 685.4 179.6 683 A4.6 4.4 0 1 1 185 687.4 L178.4 687.4" stroke="#0a0a0a" stroke-width="2.1" fill="none"/>
    <ellipse cx="183.9" cy="683" rx="4.2" ry="4" fill="#0a0a0a"/>
    <ellipse cx="183.8" cy="683.6" rx="1.9" ry="1.2" fill="#eeeeee" transform="rotate(-18 183.8 683.6)"/>
    <polygon points="159.2,688.9 176.2,688.9 175,693.8 157.8,693.8" fill="#27a679"/>
    <polygon points="179.6,688.9 198,688.9 197.6,693.8 178.4,693.8" fill="#27a679"/>
    <text x="159.4" y="693.1" font-size="4.8" font-weight="bold" font-style="italic" fill="#dcfff2" textLength="15.4" lengthAdjust="spacingAndGlyphs">NEW</text>
    <text x="180" y="693.1" font-size="4.8" font-weight="bold" font-style="italic" fill="#dcfff2" textLength="16.8" lengthAdjust="spacingAndGlyphs">PENN</text>
  </g>
  <!-- Reddaway -->
  <text x="208.3" y="686.8" font-size="9.8" font-weight="bold" fill="#ffffff" textLength="43.8" lengthAdjust="spacingAndGlyphs">Reddaway</text>
  <use href="#wave" x="92" y="0"/>
  <!-- YRC Freight -->
  <text x="262.6" y="687.8" font-size="13.4" font-weight="bold" font-style="italic" fill="#ffffff" stroke="#ffffff" stroke-width="0.45" textLength="25.6" lengthAdjust="spacingAndGlyphs">YRC</text>
  <polygon points="264,691.2 286.6,688.6 287.2,689.8 263.4,695.6" fill="#f08a24"/>
  <text x="274" y="695.6" font-size="2.8" font-weight="bold" fill="#e6e6e6" textLength="13.2" lengthAdjust="spacingAndGlyphs">FREIGHT</text>
  <!-- HNRY -->
  <g stroke="#b9c3d6" stroke-width="0.95" fill="none" stroke-linejoin="miter">
    <path d="M299 681 V690.4 M308.8 681 V690.4 M299 685.6 H308.8"/>
    <path d="M312.4 690.4 V681 L321.6 690.4 V681"/>
    <path d="M325.4 690.4 V681.4 H331.6 C335.6 681.4 335.6 686 331.6 686 H325.4 M330.4 686 L335 690.4"/>
    <path d="M336.6 681 L341.4 686 L346.2 681 M341.4 686 V690.4"/>
  </g>
  <text x="298.8" y="693.9" font-size="2.4" font-weight="bold" fill="#a9b3c6" textLength="22.2" lengthAdjust="spacingAndGlyphs">LOGISTICS</text>
  <path d="M324 693.8 l1.4 -1.6 M326.6 693.8 l1.4 -1.6 M329.2 693.8 l1.4 -1.6 M331.8 693.8 l1.4 -1.6 M334.4 693.8 l1.4 -1.6 M337 693.8 l1.4 -1.6 M339.6 693.8 l1.4 -1.6" stroke="#b9c3d6" stroke-width="0.9"/>
  <rect x="344.2" y="692" width="1.9" height="1.9" fill="#e4e8f0"/>
  </g>
</svg>

</body>
</html>
